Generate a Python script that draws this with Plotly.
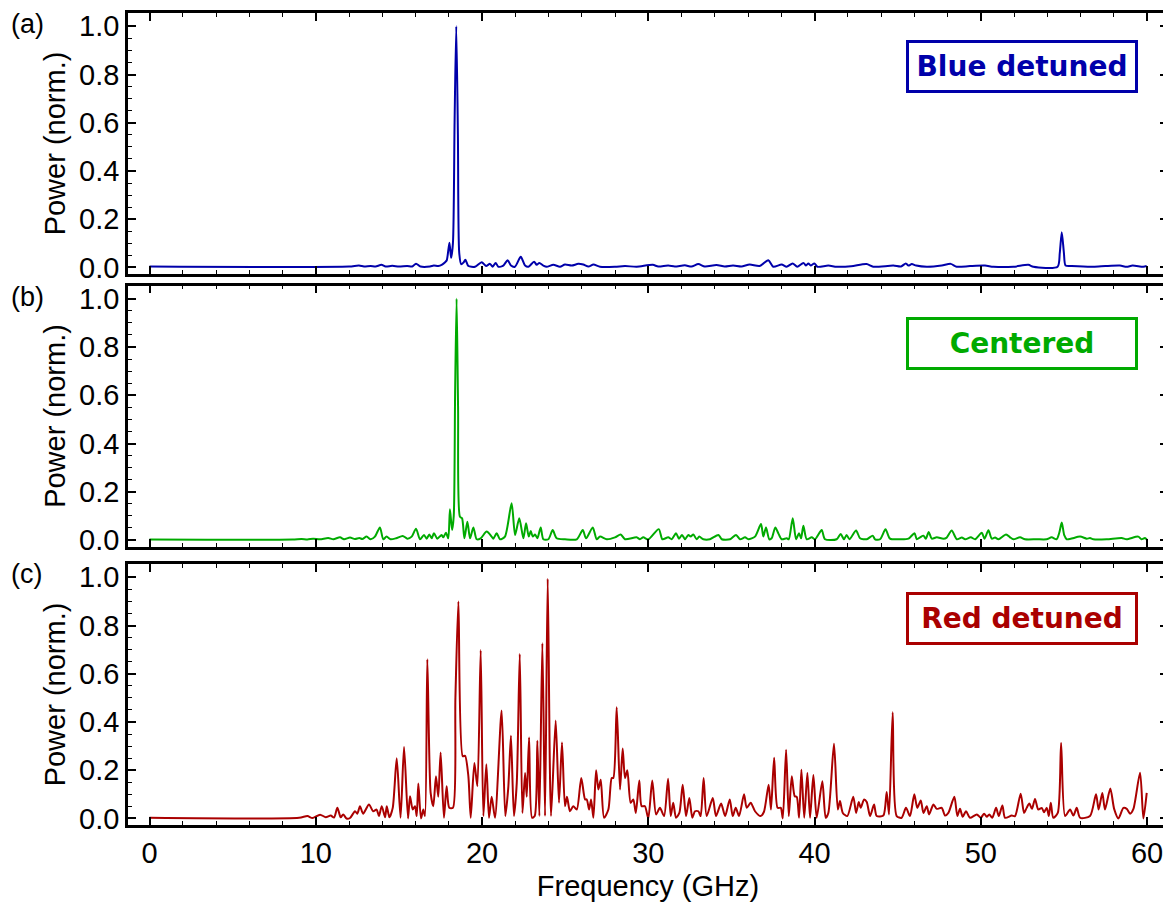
import plotly.graph_objects as go

# ---------------- data ----------------
blue_freq = [0, 12.0, 12.6, 12.9, 13.3, 13.6, 13.95, 14.2, 14.6, 15.0, 15.5, 15.8, 16.03, 16.3, 16.87, 17.1,
             17.37, 17.6, 17.78, 17.88, 18.04, 18.14, 18.25, 18.35, 18.45, 18.55, 18.63, 18.75, 18.88, 19.0,
             19.18, 19.58, 19.98, 20.24, 20.48, 20.64, 20.82, 20.98, 21.28, 21.54, 21.74, 21.98, 22.33, 22.59,
             22.79, 23.13, 23.29, 23.45, 23.69, 23.89, 24.29, 24.69, 24.99, 25.39, 25.79, 26.09, 26.4, 26.7,
             27.1, 28.0, 28.6, 29.3, 30.27, 30.6, 31.2, 31.6, 32.2, 32.6, 33.01, 33.4, 34.1, 34.6, 35.1, 35.6,
             36.1, 36.7, 37.22, 37.52, 38.02, 38.32, 38.68, 38.96, 39.33, 39.49, 39.63, 39.77, 39.99, 40.17,
             40.83, 41.33, 42.2, 43.13, 43.53, 44.74, 45.2, 45.49, 45.65, 45.85, 46.11, 46.75, 47.65, 48.19,
             48.55, 49.35, 50.25, 50.76, 51.96, 52.86, 53.16, 54.62, 54.75, 54.87, 55.0, 55.1, 55.47, 56.77,
             57.5, 58.37, 58.77, 59.13, 59.77, 59.98]
blue_power = [0.004, 0.004, 0.008, 0.004, 0.006, 0.004, 0.011, 0.004, 0.007, 0.004, 0.006, 0.004, 0.016, 0.004,
              0.004, 0.008, 0.006, 0.012, 0.022, 0.03, 0.103, 0.04, 0.1, 0.6, 1.0, 0.55, 0.06, 0.013, 0.02,
              0.032, 0.006, 0.003, 0.022, 0.006, 0.015, 0.003, 0.019, 0.003, 0.008, 0.03, 0.008, 0.003, 0.044,
              0.008, 0.003, 0.024, 0.011, 0.019, 0.008, 0.003, 0.011, 0.003, 0.012, 0.008, 0.015, 0.012, 0.004,
              0.012, 0.003, 0.003, 0.006, 0.003, 0.011, 0.004, 0.008, 0.004, 0.009, 0.004, 0.014, 0.004, 0.01,
              0.004, 0.008, 0.004, 0.012, 0.006, 0.03, 0.003, 0.012, 0.003, 0.017, 0.003, 0.019, 0.008, 0.017,
              0.008, 0.017, 0.003, 0.008, 0.003, 0.005, 0.014, 0.003, 0.008, 0.004, 0.017, 0.008, 0.014, 0.008,
              0.003, 0.008, 0.015, 0.003, 0.006, 0.008, 0.003, 0.003, 0.011, 0.003, 0.003, 0.06, 0.146, 0.06,
              0.008, 0.006, 0.003, 0.006, 0.008, 0.003, 0.008, 0.003, 0.006]

green_freq = [0, 8.6, 9.15, 9.5, 9.85, 10.25, 10.75, 11.06, 11.46, 11.7, 12.06, 12.36, 12.62, 12.8, 13.06, 13.3,
              13.56, 13.86, 14.06, 14.26, 14.5, 14.83, 15.23, 15.51, 15.77, 16.03, 16.27, 16.51, 16.67, 16.83,
              16.97, 17.11, 17.31, 17.57, 17.67, 17.83, 17.97, 18.07, 18.2, 18.3, 18.38, 18.47, 18.56, 18.67,
              18.8, 18.94, 19.12, 19.28, 19.48, 19.68, 19.92, 20.28, 20.58, 20.68, 20.88, 21.08, 21.38, 21.78,
              21.99, 22.24, 22.49, 22.65, 22.81, 22.93, 23.05, 23.19, 23.33, 23.53, 23.69, 23.99, 24.25, 24.49,
              24.99, 25.7, 26.06, 26.26, 26.66, 26.9, 27.1, 27.5, 28.0, 28.34, 28.6, 29.3, 29.5, 29.7, 30.0,
              30.63, 30.85, 31.2, 31.41, 31.67, 31.85, 32.03, 32.21, 32.41, 32.55, 32.71, 32.91, 33.07, 33.31,
              33.71, 34.22, 34.42, 34.92, 35.28, 35.52, 35.82, 36.02, 36.42, 36.78, 36.92, 37.08, 37.28, 37.42,
              37.64, 37.82, 38.02, 38.33, 38.45, 38.69, 38.89, 39.07, 39.19, 39.33, 39.53, 39.83, 40.03, 40.43,
              40.63, 41.33, 41.57, 41.77, 41.93, 42.1, 42.5, 42.74, 43.14, 43.5, 43.64, 43.94, 44.27, 44.54,
              45.14, 45.65, 46.01, 46.15, 46.35, 46.55, 46.69, 46.87, 47.05, 47.35, 47.75, 47.95, 48.25, 48.56,
              48.86, 49.06, 49.4, 49.66, 50.06, 50.22, 50.46, 50.66, 50.86, 51.06, 51.52, 51.76, 51.96, 52.36,
              52.66, 53.36, 53.96, 54.26, 54.56, 54.72, 54.87, 55.02, 55.17, 55.97, 56.37, 56.57, 56.77, 57.57,
              58.47, 58.77, 59.47, 59.67, 59.87, 59.98]
green_power = [0.002, 0.002, 0.004, 0.002, 0.0055, 0.003, 0.008, 0.003, 0.011, 0.003, 0.01, 0.004, 0.008, 0.004,
               0.014, 0.003, 0.014, 0.052, 0.003, 0.014, 0.003, 0.007, 0.017, 0.0055, 0.014, 0.047, 0.003, 0.021,
               0.0055, 0.023, 0.007, 0.028, 0.0055, 0.021, 0.011, 0.03, 0.007, 0.127, 0.041, 0.1, 0.6, 1.0, 0.55,
               0.097, 0.09, 0.007, 0.076, 0.007, 0.052, 0.003, 0.007, 0.035, 0.014, 0.0055, 0.028, 0.003, 0.014,
               0.152, 0.021, 0.09, 0.007, 0.069, 0.014, 0.037, 0.014, 0.023, 0.007, 0.052, 0.003, 0.003, 0.041,
               0.007, 0.003, 0.003, 0.041, 0.007, 0.052, 0.003, 0.014, 0.003, 0.011, 0.023, 0.003, 0.011, 0.003,
               0.011, 0.002, 0.045, 0.003, 0.011, 0.003, 0.028, 0.0055, 0.021, 0.003, 0.021, 0.014, 0.023, 0.003,
               0.014, 0.003, 0.003, 0.021, 0.003, 0.003, 0.021, 0.003, 0.011, 0.003, 0.014, 0.066, 0.014, 0.052,
               0.003, 0.007, 0.052, 0.028, 0.003, 0.007, 0.003, 0.09, 0.003, 0.028, 0.007, 0.059, 0.003, 0.011,
               0.003, 0.041, 0.003, 0.003, 0.025, 0.003, 0.021, 0.003, 0.039, 0.007, 0.003, 0.018, 0.003, 0.003,
               0.044, 0.0055, 0.003, 0.0055, 0.028, 0.003, 0.011, 0.018, 0.0055, 0.033, 0.0055, 0.011, 0.0055,
               0.01, 0.039, 0.003, 0.01, 0.003, 0.011, 0.003, 0.03, 0.0055, 0.04, 0.0055, 0.01, 0.003, 0.023,
               0.011, 0.003, 0.011, 0.003, 0.003, 0.003, 0.011, 0.003, 0.03, 0.072, 0.02, 0.003, 0.014, 0.0055,
               0.008, 0.003, 0.003, 0.008, 0.003, 0.014, 0.003, 0.008, 0.002]

red_freq = [0, 9.0, 9.5, 9.8, 10.26, 10.6, 10.9, 11.1, 11.3, 11.5, 11.65, 11.85, 12.06, 12.36, 12.5, 12.66,
            12.85, 13.2, 13.45, 13.66, 13.8, 13.97, 14.17, 14.27, 14.43, 14.63, 14.87, 15.1, 15.31, 15.55,
            15.67, 15.83, 15.97, 16.07, 16.17, 16.33, 16.47, 16.57, 16.71, 16.91, 17.07, 17.23, 17.37, 17.51,
            17.71, 17.87, 18.03, 18.25, 18.4, 18.58, 18.84, 18.98, 19.18, 19.32, 19.54, 19.72, 19.92, 20.08,
            20.26, 20.42, 20.58, 20.78, 21.18, 21.4, 21.58, 21.74, 21.92, 22.09, 22.27, 22.43, 22.59, 22.69,
            22.83, 23.01, 23.17, 23.33, 23.45, 23.63, 23.79, 23.95, 24.15, 24.43, 24.63, 24.81, 24.99, 25.11,
            25.29, 25.49, 25.7, 25.97, 26.2, 26.3, 26.44, 26.56, 26.7, 26.86, 27.0, 27.14, 27.34, 27.6, 27.8,
            27.9, 28.1, 28.3, 28.46, 28.6, 28.74, 28.94, 29.1, 29.25, 29.46, 29.6, 29.8, 30.0, 30.24, 30.47,
            30.7, 30.95, 31.19, 31.35, 31.5, 31.67, 31.87, 32.07, 32.27, 32.47, 32.65, 32.81, 33.01, 33.15,
            33.33, 33.51, 33.88, 34.07, 34.38, 34.62, 34.9, 35.08, 35.26, 35.46, 35.76, 35.92, 36.16, 36.42,
            36.76, 36.96, 37.24, 37.38, 37.57, 37.78, 37.97, 38.09, 38.29, 38.45, 38.63, 38.81, 38.93, 39.07,
            39.21, 39.38, 39.57, 39.73, 39.93, 40.13, 40.47, 40.67, 40.83, 41.17, 41.4, 41.53, 41.7, 41.97,
            42.33, 42.5, 42.66, 42.78, 42.98, 43.14, 43.34, 43.58, 43.74, 44.14, 44.34, 44.48, 44.7, 44.94,
            45.24, 45.5, 45.74, 46.0, 46.18, 46.39, 46.55, 46.75, 46.89, 47.15, 47.35, 47.65, 47.85, 48.05,
            48.41, 48.59, 48.75, 48.91, 49.11, 49.35, 49.76, 50.0, 50.2, 50.36, 50.51, 50.69, 50.92, 51.08,
            51.3, 51.46, 51.86, 52.06, 52.4, 52.6, 52.76, 52.92, 53.08, 53.26, 53.46, 53.67, 53.8, 53.97,
            54.09, 54.21, 54.36, 54.63, 54.83, 55.07, 55.37, 55.57, 55.77, 55.97, 56.57, 56.93, 57.09, 57.31,
            57.47, 57.79, 58.02, 58.28, 58.58, 58.78, 58.98, 59.18, 59.58, 59.78, 59.98]
red_power = [0.003, 0.003, 0.01, 0.002, 0.016, 0.005, 0.012, 0.004, 0.044, 0.005, 0.017, 0.0, 0.002, 0.03, 0.02,
             0.051, 0.02, 0.058, 0.03, 0.037, 0.01, 0.051, 0.005, 0.051, 0.005, 0.044, 0.25, 0.003, 0.296, 0.0,
             0.092, 0.037, 0.051, 0.01, 0.145, 0.0, 0.037, 0.01, 0.66, 0.106, 0.051, 0.175, 0.09, 0.274, 0.003,
             0.134, 0.044, 0.044, 0.5, 0.9, 0.258, 0.26, 0.175, 0.003, 0.23, 0.134, 0.698, 0.01, 0.225, 0.003,
             0.09, 0.003, 0.448, 0.01, 0.128, 0.343, 0.01, 0.147, 0.682, 0.023, 0.189, 0.09, 0.336, 0.003, 0.01,
             0.322, 0.01, 0.726, 0.01, 0.994, 0.01, 0.406, 0.065, 0.315, 0.051, 0.09, 0.03, 0.051, 0.037, 0.168,
             0.079, 0.079, 0.037, 0.079, 0.003, 0.2, 0.12, 0.161, 0.003, 0.037, 0.168, 0.168, 0.461, 0.12, 0.29,
             0.168, 0.2, 0.065, 0.079, 0.023, 0.157, 0.051, 0.051, 0.0, 0.157, 0.017, 0.044, 0.01, 0.165, 0.01,
             0.065, 0.003, 0.023, 0.14, 0.01, 0.085, 0.003, 0.03, 0.03, 0.01, 0.168, 0.01, 0.085, 0.01, 0.062,
             0.01, 0.079, 0.01, 0.044, 0.01, 0.1, 0.044, 0.065, 0.03, 0.01, 0.028, 0.14, 0.037, 0.252, 0.044,
             0.044, 0.0, 0.285, 0.01, 0.175, 0.092, 0.09, 0.003, 0.202, 0.003, 0.189, 0.003, 0.18, 0.003, 0.154,
             0.003, 0.023, 0.31, 0.037, 0.072, 0.023, 0.01, 0.09, 0.023, 0.068, 0.044, 0.079, 0.068, 0.01, 0.058,
             0.01, 0.012, 0.11, 0.017, 0.44, 0.01, 0.003, 0.044, 0.01, 0.1, 0.044, 0.075, 0.023, 0.051, 0.017,
             0.058, 0.04, 0.044, 0.012, 0.023, 0.09, 0.01, 0.04, 0.007, 0.03, 0.003, 0.017, 0.003, 0.02, 0.007,
             0.017, 0.003, 0.044, 0.01, 0.054, 0.003, 0.012, 0.01, 0.103, 0.023, 0.044, 0.062, 0.04, 0.081,
             0.037, 0.044, 0.026, 0.044, 0.01, 0.065, 0.003, 0.023, 0.313, 0.01, 0.037, 0.012, 0.044, 0.003,
             0.01, 0.1, 0.037, 0.106, 0.037, 0.124, 0.04, 0.0, 0.044, 0.04, 0.02, 0.04, 0.19, 0.0, 0.106]

panel_tags = ["(a)", "(b)", "(c)"]
panel_names = ["Blue detuned", "Centered", "Red detuned"]
panel_colors = ["#0000AA", "#00AA00", "#AA0000"]
y_ticks = [0.0, 0.2, 0.4, 0.6, 0.8, 1.0]
x_title = "Frequency (GHz)"
y_title = "Power (norm.)"

# ---------------- figure ----------------
# The page shows the figure offset by the 8px body margin, so the figure is
# sized 8px smaller and every target pixel coordinate is shifted by -8.
OFF = 8
W, H = 1171 - OFF, 915 - OFF
ML, MR, MT, MB = 128 - OFF, 3, 13 - OFF, 90
PW, PH = W - ML - MR, H - MT - MB

def py(pix):  # reference pixel row -> paper y
    return (H - MB - (pix - OFF)) / PH

def px(pix):  # reference pixel column -> paper x
    return ((pix - OFF) - ML) / PW

domains = [[py(274), py(13)], [py(546.5), py(285.5)], [py(825), py(564)]]

FONT = "Liberation Sans, Arial, Helvetica, sans-serif"
FS = 29
fig = go.Figure()
series = [(blue_freq, blue_power), (green_freq, green_power), (red_freq, red_power)]
for i, (fx, fy) in enumerate(series):
    fig.add_trace(go.Scatter(x=fx, y=fy, mode="lines",
                             line=dict(color=panel_colors[i], width=2, shape="spline", smoothing=0.7),
                             xaxis="x" if i == 0 else f"x{i+1}",
                             yaxis="y" if i == 0 else f"y{i+1}",
                             showlegend=False, hoverinfo="skip"))

layout = dict(width=W, height=H, margin=dict(l=ML, r=MR, t=MT, b=MB, autoexpand=False),
              template="none",
              plot_bgcolor="white", paper_bgcolor="white", showlegend=False)

for i in range(3):
    xa = "xaxis" if i == 0 else f"xaxis{i+1}"
    ya = "yaxis" if i == 0 else f"yaxis{i+1}"
    yid = "y" if i == 0 else f"y{i+1}"
    xid = "x" if i == 0 else f"x{i+1}"
    layout[xa] = dict(domain=[0, 1], anchor=yid, range=[-1.293, 61.26], automargin=False,
                      showline=True, linecolor="black", linewidth=2.5, mirror="allticks",
                      ticks="inside", ticklen=8, tickwidth=1.5, tickcolor="black",
                      tick0=0, dtick=10,
                      minor=dict(ticks="inside", ticklen=4, tickwidth=1.2, tickcolor="black", dtick=2),
                      showgrid=False, zeroline=False, showticklabels=(i == 2),
                      tickfont=dict(family=FONT, size=FS, color="black"))
    if i == 2:
        layout[xa]["title"] = dict(text=x_title, font=dict(family=FONT, size=FS, color="black"), standoff=9)
        layout[xa]["ticklabelstandoff"] = 0
    layout[ya] = dict(domain=domains[i], anchor=xid, range=[-0.027, 1.055], automargin=False,
                      showline=True, linecolor="black", linewidth=2.5, mirror="allticks",
                      ticks="inside", ticklen=8, tickwidth=1.5, tickcolor="black",
                      tickvals=y_ticks, tickformat=".1f",
                      minor=dict(ticks="inside", ticklen=4, tickwidth=1.2, tickcolor="black",
                                 tickvals=[k * 0.05 for k in range(21)]),
                      showgrid=False, zeroline=False,
                      tickfont=dict(family=FONT, size=FS, color="black"),
                      title=dict(text=y_title, font=dict(family=FONT, size=FS, color="black"), standoff=5))

fig.update_layout(**layout)

box_centers = [66.5, 343, 618.5]
for i in range(3):
    fig.add_annotation(xref="paper", yref="paper", x=px(1022), y=py(box_centers[i]),
                       xanchor="center", yanchor="middle", showarrow=False,
                       text=f"<b>{panel_names[i]}</b>",
                       font=dict(family="DejaVu Sans, Verdana, sans-serif", size=28, color=panel_colors[i]),
                       bordercolor=panel_colors[i], borderwidth=3, borderpad=0,
                       width=226, height=47, bgcolor="white")
    fig.add_annotation(xref="paper", yref="paper", x=px(9),
                       y=py([24, 297, 574][i]), xanchor="left", yanchor="middle",
                       showarrow=False, text=panel_tags[i],
                       font=dict(family=FONT, size=27, color="black"))

fig.write_html("out.html")
